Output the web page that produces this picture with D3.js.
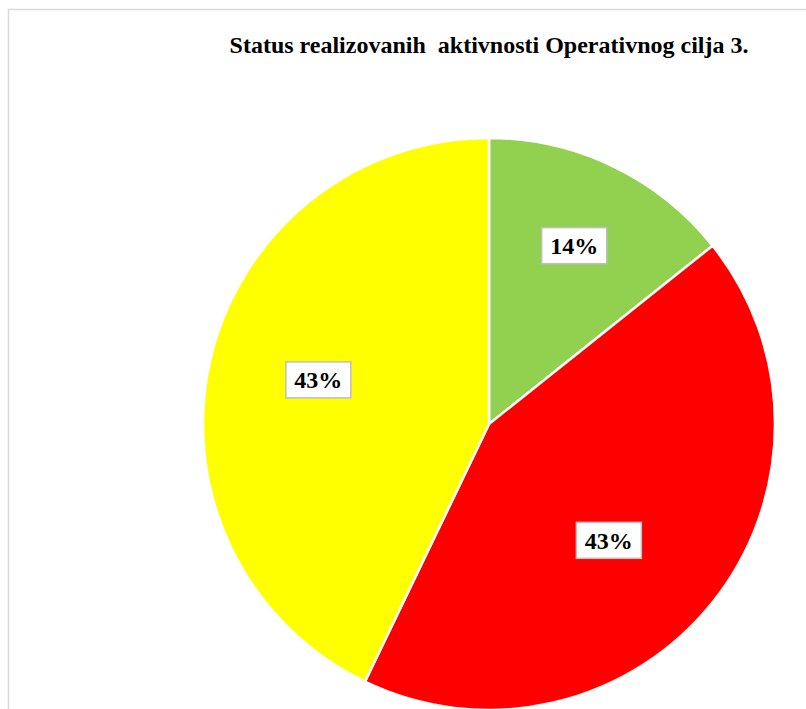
<!DOCTYPE html>
<html>
<head>
<meta charset="utf-8">
<script src="https://cdn.jsdelivr.net/npm/d3@7"></script>
<style>
  html, body { margin: 0; padding: 0; background: #fff; }
  svg { display: block; }
</style>
</head>
<body>
<svg id="chart" width="806" height="709"></svg>
<script>
const title = "Status realizovanih  aktivnosti Operativnog cilja 3.";
const categories = ["Realizovano", "Nije realizovano", "Djelimično realizovano"];
const values = [1, 3, 3];
const colors = ["#92D050", "#FF0000", "#FFFF00"];

const W = 806, H = 709;
const cx = 489, cy = 424, R = 286;
// manual nudges of data labels (as placed in the original)
const labelNudge = [[7, -16], [-21, 4], [5, -4]];

const svg = d3.select("#chart");

svg.append("path")
  .attr("d", `M8.5,${H} V9.5 H${W}`)
  .attr("fill", "none")
  .attr("stroke", "#d9d9d9")
  .attr("stroke-width", 1.5);

svg.append("text")
  .attr("x", 489)
  .attr("y", 53)
  .attr("text-anchor", "middle")
  .attr("font-family", "'Liberation Serif', 'Times New Roman', serif")
  .attr("font-weight", "bold")
  .attr("font-size", 24)
  .attr("fill", "#000")
  .attr("xml:space", "preserve")
  .style("white-space", "pre")
  .text(title);

const total = d3.sum(values);
const pie = d3.pie().sort(null).value(d => d)(values);
const arc = d3.arc().innerRadius(0).outerRadius(R);
const labelArc = d3.arc().innerRadius(R * 0.63).outerRadius(R * 0.63);

const g = svg.append("g").attr("transform", `translate(${cx},${cy})`);

g.selectAll("path.slice")
  .data(pie)
  .enter().append("path")
  .attr("class", "slice")
  .attr("d", arc)
  .attr("fill", (d, i) => colors[i])
  .attr("stroke", "#fff")
  .attr("stroke-width", 2.5)
  .attr("stroke-linejoin", "round");

const fmt = v => Math.round(v / total * 100) + "%";

const lbl = g.selectAll("g.lbl")
  .data(pie)
  .enter().append("g")
  .attr("class", "lbl")
  .attr("transform", (d, i) => {
    const c = labelArc.centroid(d);
    return `translate(${c[0] + labelNudge[i][0]},${c[1] + labelNudge[i][1]})`;
  });

lbl.append("rect")
  .attr("x", -32.5).attr("y", -18)
  .attr("width", 65).attr("height", 36)
  .attr("fill", "#fff")
  .attr("stroke", "#bfbfbf")
  .attr("stroke-width", 1.5);

lbl.append("text")
  .attr("text-anchor", "middle")
  .attr("dy", "0.35em")
  .attr("font-family", "'Liberation Serif', 'Times New Roman', serif")
  .attr("font-weight", "bold")
  .attr("font-size", 24)
  .attr("fill", "#000")
  .text(d => fmt(d.data));
</script>
</body>
</html>
